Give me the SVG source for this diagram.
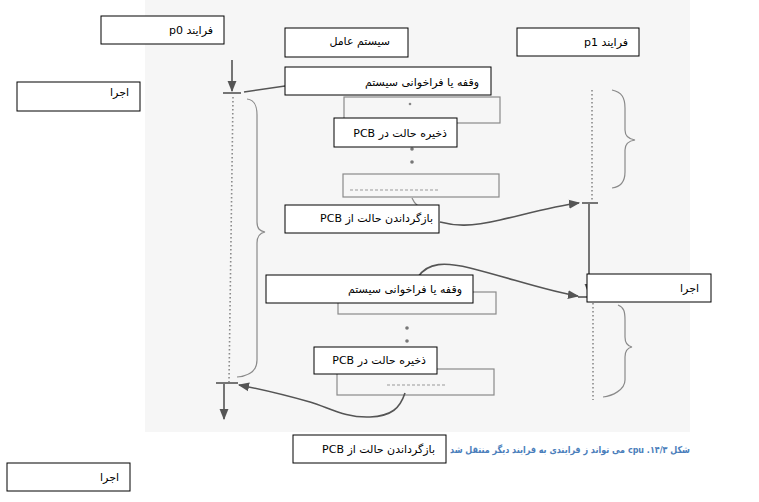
<svg xmlns="http://www.w3.org/2000/svg" width="759" height="502" viewBox="0 0 759 502">
<style>
.box{fill:#fff;stroke:#000;stroke-width:1}
.t{font-family:"DejaVu Sans",sans-serif;font-size:11px;fill:#000;text-anchor:start;direction:rtl}
.cap{font-family:"DejaVu Sans",sans-serif;font-size:9.5px;font-weight:bold;fill:#4a7ebb;text-anchor:start;direction:rtl}
.ln{fill:none;stroke:#555;stroke-width:1.6}
.br{fill:none;stroke:#8a8a8a;stroke-width:1.2}
.dot{fill:none;stroke:#8a8a8a;stroke-width:1.6;stroke-dasharray:1.5 2.5}
.gr{fill:none;stroke:#8a8a8a;stroke-width:1.2}
.dsh{fill:none;stroke:#999;stroke-width:1;stroke-dasharray:3 2}
</style>
<defs>
<marker id="ah" viewBox="0 0 10 10" refX="9" refY="5" markerWidth="7" markerHeight="7" orient="auto" markerUnits="strokeWidth"><path d="M0,1 L10,5 L0,9 z" fill="#555"/></marker>
</defs>
<rect x="0" y="0" width="759" height="502" fill="#fff"/>
<rect x="145" y="0" width="545" height="432" fill="#f6f6f6"/>
<g id="scan-shapes">
<rect class="gr" x="344" y="97" width="156" height="26"/>
<circle cx="410" cy="104" r="1.3" fill="#888"/>
<circle cx="412" cy="149" r="1.8" fill="#777"/>
<circle cx="412" cy="162" r="1.8" fill="#777"/>
<rect class="gr" x="343" y="174" width="156" height="23"/>
<path class="dsh" d="M350,190 L440,190"/>
<path class="gr" d="M412,198 Q414,203 418,206"/>
<rect class="gr" x="338" y="292" width="158" height="22"/>
<circle cx="407" cy="328" r="1.8" fill="#777"/>
<circle cx="407" cy="341" r="1.8" fill="#777"/>
<rect class="gr" x="337" y="369" width="157" height="26"/>
<path class="dsh" d="M387,385 L447,385"/>
</g>
<g id="connectors">
<path class="ln" d="M232,60 L232,91" marker-end="url(#ah)"/>
<path class="ln" d="M223,93 L241,93" stroke="#777"/>
<path class="ln" d="M244,92 L285,86"/>
<path class="dot" d="M233,97 L229,382"/>
<path class="br" d="M247,99 C255,100 257,106 257,115 L257,222 C257,229 260,231 265,232 C260,233 257,236 257,243 L257,360 C257,372 248,376 237,377"/>
<path class="ln" d="M216,383 L238,383" stroke="#777"/>
<path class="ln" d="M224,384 L224,419" marker-end="url(#ah)"/>
<path class="ln" d="M405,393 C400,408 392,416 370,417 C345,418 330,408 310,402 C285,395 260,389 239,385" marker-end="url(#ah)"/>
<path class="ln" d="M440,222 C455,226 470,227 500,220 C530,213 555,206 579,203" marker-end="url(#ah)"/>
<path class="ln" d="M418,277 C428,262 445,262 470,268 C510,278 550,292 578,296" marker-end="url(#ah)"/>
<path class="dot" d="M592,90 L592,200"/>
<path class="ln" d="M582,203 L598,203" stroke="#777"/>
<path class="ln" d="M589,204 L589,294" marker-end="url(#ah)"/>
<path class="ln" d="M578,297 L592,297" stroke="#777"/>
<path class="dot" d="M593,303 L593,400"/>
<path class="br" d="M612,90 C622,92 625,98 625,108 L625,130 C625,136 628,139 635,140 C628,141 625,144 625,150 L625,172 C625,182 620,187 612,188"/>
<path class="br" d="M618,305 C624,307 625,312 625,320 L625,337 C625,343 627,346 632,347 C627,348 625,351 625,357 L625,380 C625,390 612,396 603,397"/>
</g>
<text class="cap" x="690" y="453" textLength="240" lengthAdjust="spacingAndGlyphs">شکل ۱۴/۳. cpu می تواند ز فرایندی به فرایند دیگر منتقل شد</text>
<g id="p0"><rect class="box" x="101" y="16" width="123" height="28"/><text class="t" x="213" y="34">فرایند p0</text></g>
<g id="os"><rect class="box" x="285" y="28" width="123" height="29"/><text class="t" x="390" y="45">سیستم عامل</text></g>
<g id="p1"><rect class="box" x="517" y="28" width="122" height="28"/><text class="t" x="628" y="46">فرایند p1</text></g>
<g id="exec1"><rect class="box" x="17" y="82" width="123" height="29"/><text class="t" x="129" y="96">اجرا</text></g>
<g id="int1"><rect class="box" x="285" y="67" width="206" height="28"/><text class="t" x="479" y="86">وقفه یا فراخوانی سیستم</text></g>
<g id="save1"><rect class="box" x="334" y="118" width="123" height="29"/><text class="t" x="447" y="137">ذخیره حالت در PCB</text></g>
<g id="restore1"><rect class="box" x="285" y="205" width="154" height="28"/><text class="t" x="433" y="222">بازگرداندن حالت از PCB</text></g>
<g id="int2"><rect class="box" x="266" y="275" width="207" height="28"/><text class="t" x="462" y="293">وقفه یا فراخوانی سیستم</text></g>
<g id="save2"><rect class="box" x="314" y="347" width="123" height="27"/><text class="t" x="426" y="364">ذخیره حالت در PCB</text></g>
<g id="restore2"><rect class="box" x="293" y="435" width="153" height="28"/><text class="t" x="435" y="453">بازگرداندن حالت از PCB</text></g>
<g id="exec2"><rect class="box" x="587" y="274" width="124" height="28"/><text class="t" x="699" y="292">اجرا</text></g>
<g id="exec3"><rect class="box" x="7" y="463" width="123" height="28"/><text class="t" x="119" y="481">اجرا</text></g>
</svg>
